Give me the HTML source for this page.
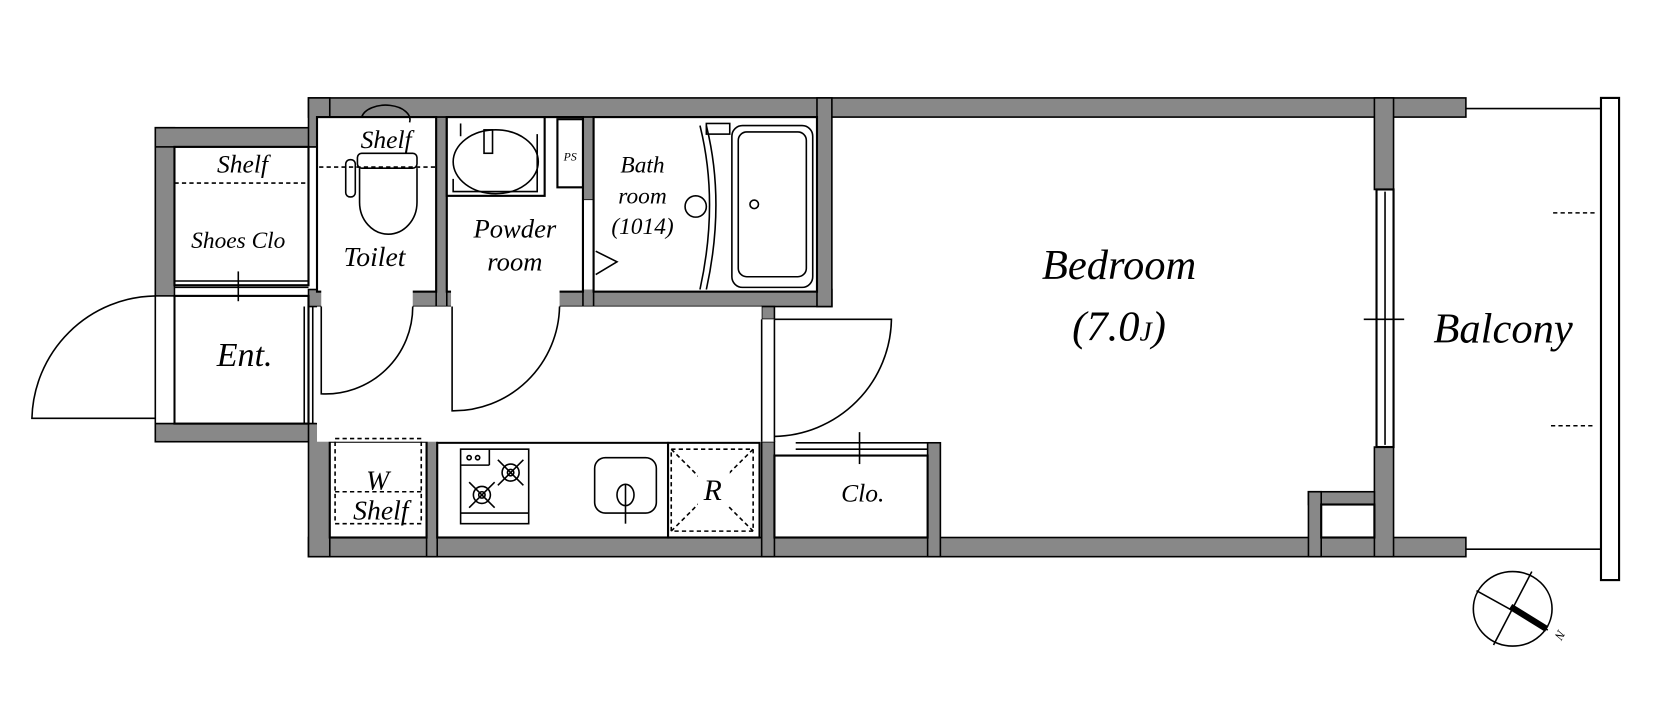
<!DOCTYPE html>
<html><head><meta charset="utf-8"><style>
html,body{margin:0;padding:0;background:#fff}
svg{display:block}
text{font-family:"Liberation Serif",serif;font-style:italic;fill:#000}
</style></head><body>
<svg width="1668" height="711" viewBox="0 0 1568 668" preserveAspectRatio="none" xmlns="http://www.w3.org/2000/svg">
<g fill="#888" stroke="#000" stroke-width="1.5">
<rect x="290" y="92" width="1088" height="18"/>
<rect x="290" y="505" width="1088" height="18"/>
<rect x="146" y="120" width="18" height="158"/>
<rect x="146" y="398" width="18" height="17"/>
<rect x="146" y="120" width="150" height="18"/>
<rect x="146" y="398" width="150" height="17"/>
<rect x="290" y="92" width="20" height="46"/>
<rect x="290" y="398" width="20" height="125"/>
<rect x="1292" y="92" width="18" height="86"/>
<rect x="1292" y="420" width="18" height="103"/>
<rect x="1230" y="462" width="62" height="12"/>
<rect x="1230" y="462" width="12" height="61"/>
<rect x="290" y="272" width="492" height="16"/>
<rect x="768" y="92" width="14" height="196"/>
<rect x="716" y="288" width="12" height="12"/>
<rect x="716" y="415" width="12" height="108"/>
<rect x="872" y="416" width="12" height="107"/>
<rect x="401" y="405" width="10" height="118"/>
<rect x="410" y="110" width="10" height="178"/>
<rect x="548" y="110" width="10" height="178"/>
<rect x="512" y="110" width="46" height="78"/>
</g>
<g fill="#fff" stroke="#000" stroke-width="2">
<rect x="298" y="110" width="112" height="164"/>
<rect x="420" y="110" width="128" height="164"/>
<rect x="558" y="110" width="210" height="164"/>
<rect x="164" y="138" width="126" height="130"/>
<rect x="164" y="278" width="126" height="120"/>
<rect x="310" y="415" width="91" height="90"/>
<rect x="411" y="416" width="217" height="89"/>
<rect x="628" y="416" width="86" height="89"/>
<rect x="728" y="428" width="144" height="77"/>
<rect x="1242" y="474" width="50" height="31"/>
<rect x="524" y="112" width="24" height="64"/>
<rect x="420" y="110" width="92" height="74"/>
<rect x="1294" y="178" width="16" height="242"/>
<rect x="1505" y="92" width="17" height="453"/>
</g>
<g fill="#fff" stroke="none">
<rect x="302" y="272" width="86" height="17"/>
<rect x="424" y="272" width="102" height="17"/>
<rect x="298" y="288" width="418" height="127"/>
<rect x="716" y="300" width="12" height="115"/>
<rect x="146" y="279" width="17" height="118"/>
<rect x="549" y="188" width="8" height="84"/>
</g>
<g fill="none" stroke="#000" stroke-width="1.5">
<path d="M146 278 A118 118 0 0 0 30 393 H146"/>
<line x1="146" y1="278" x2="146" y2="398"/><line x1="164" y1="278" x2="164" y2="398"/>
<line x1="286" y1="288" x2="286" y2="398"/><line x1="294" y1="288" x2="294" y2="398"/>
<path d="M302 288 V370 A82 82 0 0 0 388 288"/>
<path d="M425 288 V386 A100 100 0 0 0 526 288"/>
<path d="M728 300 H838 A112 112 0 0 1 728 410"/>
<line x1="716" y1="300" x2="716" y2="415"/><line x1="728" y1="300" x2="728" y2="415"/>
<line x1="548" y1="188" x2="548" y2="272"/><line x1="558" y1="188" x2="558" y2="272"/>
<path d="M560 236 L580 246 L560 258"/>
<line x1="164" y1="264" x2="290" y2="264"/><line x1="164" y1="270" x2="290" y2="270"/>
<line x1="224" y1="255" x2="224" y2="283"/>
<line x1="748" y1="416" x2="872" y2="416"/><line x1="748" y1="422" x2="872" y2="422"/>
<line x1="808" y1="406" x2="808" y2="436"/>
<line x1="1302" y1="180" x2="1302" y2="418"/>
<line x1="1282" y1="300" x2="1320" y2="300"/>
<line x1="1378" y1="102" x2="1505" y2="102"/>
<line x1="1378" y1="516" x2="1505" y2="516"/>
<path d="M340 110 A20 12 0 0 1 385 115"/>
<rect x="336" y="144" width="56" height="14" rx="4"/>
<path d="M338 158 V190 A27 30 0 0 0 392 190 V158"/>
<rect x="325" y="150" width="9" height="35" rx="4"/>
<ellipse cx="466" cy="152" rx="40" ry="30"/>
<path d="M426 168 V180 H505 V126"/>
<rect x="455" y="122" width="8" height="22"/>
<line x1="433" y1="116" x2="433" y2="128"/>
<rect x="688" y="118" width="76" height="152" rx="10"/>
<rect x="694" y="124" width="64" height="136" rx="8"/>
<circle cx="709" cy="192" r="4"/>
<path d="M658 118 Q676 190 658 272"/><path d="M664 118 Q682 190 664 272"/>
<circle cx="654" cy="194" r="10"/>
<rect x="664" y="116" width="22" height="10"/>
<rect x="433" y="422" width="64" height="70"/>
<line x1="433" y1="482" x2="497" y2="482"/><line x1="433" y1="437" x2="460" y2="437"/><line x1="460" y1="422" x2="460" y2="437"/>
<circle cx="441" cy="430" r="2"/><circle cx="449" cy="430" r="2"/>
<circle cx="480" cy="444" r="8"/><circle cx="480" cy="444" r="3"/>
<circle cx="453" cy="465" r="8"/><circle cx="453" cy="465" r="3"/>
<path d="M468 432 L492 456 M492 432 L468 456 M441 453 L465 477 M465 453 L441 477"/>
<rect x="559" y="430" width="58" height="52" rx="10"/>
<ellipse cx="588" cy="465" rx="8" ry="10"/>
<line x1="588" y1="455" x2="588" y2="492"/>
<ellipse cx="1422" cy="572" rx="37" ry="35"/>
<line x1="1440" y1="537" x2="1404" y2="606"/>
<line x1="1388" y1="555" x2="1455" y2="592"/>
</g>
<line x1="1420" y1="570" x2="1454" y2="591" stroke="#000" stroke-width="6"/>
<g fill="none" stroke="#000" stroke-width="1.5" stroke-dasharray="4 3">
<line x1="164" y1="172" x2="290" y2="172"/>
<line x1="300" y1="157" x2="410" y2="157"/>
<rect x="315" y="412" width="81" height="80"/>
<line x1="315" y1="462" x2="396" y2="462"/>
<rect x="631" y="422" width="77" height="77"/>
<line x1="631" y1="422" x2="708" y2="499"/><line x1="708" y1="422" x2="631" y2="499"/>
<line x1="1460" y1="200" x2="1502" y2="200"/>
<line x1="1458" y1="400" x2="1500" y2="400"/>
</g>
<rect x="656" y="438" width="30" height="38" fill="#fff"/>
<text x="228" y="162" font-size="24" text-anchor="middle">Shelf</text>
<text x="363" y="139" font-size="24" text-anchor="middle">Shelf</text>
<text x="224" y="233" font-size="22" text-anchor="middle">Shoes Clo</text>
<text x="352" y="250" font-size="26" text-anchor="middle">Toilet</text>
<text x="484" y="223" font-size="25" text-anchor="middle">Powder</text>
<text x="484" y="254" font-size="25" text-anchor="middle">room</text>
<text x="536" y="151" font-size="11" text-anchor="middle">PS</text>
<text x="604" y="162" font-size="22" text-anchor="middle">Bath</text>
<text x="604" y="191" font-size="22" text-anchor="middle">room</text>
<text x="604" y="220" font-size="22" text-anchor="middle">(1014)</text>
<text x="230" y="344" font-size="32" text-anchor="middle">Ent.</text>
<text x="1052" y="262" font-size="40" text-anchor="middle">Bedroom</text>
<text x="1052" y="320" font-size="40" text-anchor="middle">(7.0<tspan font-size="26">J</tspan>)</text>
<text x="1413" y="322" font-size="40" text-anchor="middle">Balcony</text>
<text x="355" y="460" font-size="26" text-anchor="middle">W</text>
<text x="358" y="488" font-size="26" text-anchor="middle">Shelf</text>
<text x="670" y="470" font-size="28" text-anchor="middle">R</text>
<text x="811" y="471" font-size="24" text-anchor="middle">Clo.</text>
<text x="1460" y="600" font-size="12" transform="rotate(120 1465 597)">N</text>
</svg>
</body></html>
